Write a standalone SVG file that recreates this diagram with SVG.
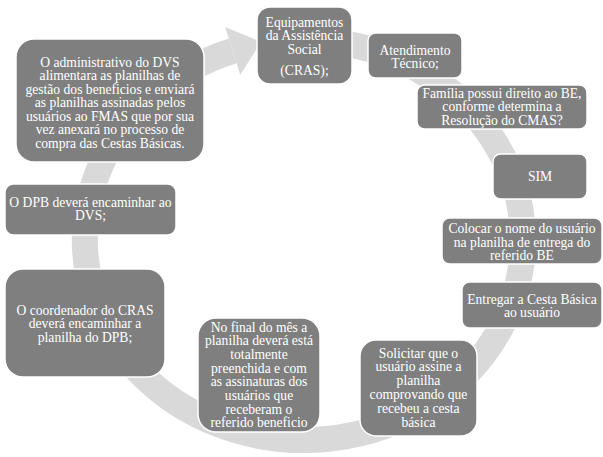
<svg xmlns="http://www.w3.org/2000/svg" width="603" height="457" viewBox="0 0 603 457">
<style>
.box{fill:#7f7f7f;stroke:#ffffff;stroke-width:1.5}
.t{font-family:'Liberation Serif','Times New Roman','DejaVu Serif',serif;font-size:13.6px;fill:#ffffff;text-anchor:middle}
.band{fill:none;stroke:#d9d9d9;stroke-width:26}
.head{fill:#d9d9d9}
</style>
<rect width="603" height="457" fill="#ffffff"/>
<g id="connectors">
<path class="band" d="M323.1,40.8 A219,200 0 1 1 232.7,50.9"/>
<polygon class="head" points="225.2,27 261.3,41.9 240.2,74.8"/>
</g>
<g id="node1">
<rect class="box" x="257" y="7" width="95" height="77" rx="13"/>
<text class="t" font-family="Liberation Serif, serif"><tspan x="304.5" y="26.6">Equipamentos</tspan><tspan x="304.5" y="40.4">da Assistência</tspan><tspan x="304.5" y="54.2">Social</tspan><tspan x="304.5" y="74.5">(CRAS);</tspan></text>
</g>
<g id="node2">
<rect class="box" x="368" y="33" width="94" height="45" rx="7.5"/>
<text class="t" font-family="Liberation Serif, serif"><tspan x="415" y="54.5">Atendimento</tspan><tspan x="415" y="68">Técnico;</tspan></text>
</g>
<g id="node3">
<rect class="box" x="417" y="85" width="170" height="44" rx="7.5"/>
<text class="t" font-family="Liberation Serif, serif"><tspan x="502" y="97.5">Família possui direito ao BE,</tspan><tspan x="502" y="111">conforme determina a</tspan><tspan x="502" y="124.5">Resolução do CMAS?</tspan></text>
</g>
<g id="node4">
<rect class="box" x="493" y="154" width="94" height="45" rx="7.5"/>
<text class="t" font-family="Liberation Serif, serif"><tspan x="540" y="181">SIM</tspan></text>
</g>
<g id="node5">
<rect class="box" x="442" y="218" width="160" height="46" rx="7.5"/>
<text class="t" font-family="Liberation Serif, serif"><tspan x="522" y="233">Colocar o nome do usuário</tspan><tspan x="522" y="246.5">na planilha de entrega do</tspan><tspan x="522" y="260">referido BE</tspan></text>
</g>
<g id="node6">
<rect class="box" x="462" y="282" width="140" height="46" rx="7.5"/>
<text class="t" font-family="Liberation Serif, serif"><tspan x="532" y="303.5">Entregar a Cesta Básica</tspan><tspan x="532" y="317">ao usuário</tspan></text>
</g>
<g id="node7">
<rect class="box" x="360" y="340" width="117" height="96" rx="16"/>
<text class="t" font-family="Liberation Serif, serif"><tspan x="418.5" y="357.5">Solicitar que o</tspan><tspan x="418.5" y="371.3">usuário assine a</tspan><tspan x="418.5" y="385.1">planilha</tspan><tspan x="418.5" y="398.9">comprovando que</tspan><tspan x="418.5" y="412.7">recebeu a cesta</tspan><tspan x="418.5" y="426.5">básica</tspan></text>
</g>
<g id="node8">
<rect class="box" x="198" y="318" width="122" height="114" rx="18"/>
<text class="t" font-family="Liberation Serif, serif"><tspan x="259" y="331.5">No final do mês a</tspan><tspan x="259" y="345.2">planilha deverá está</tspan><tspan x="259" y="358.9">totalmente</tspan><tspan x="259" y="372.6">preenchida e com</tspan><tspan x="259" y="386.3">as assinaturas dos</tspan><tspan x="259" y="400">usuários que</tspan><tspan x="259" y="413.7">receberam o</tspan><tspan x="259" y="427.4">referido beneficio</tspan></text>
</g>
<g id="node9">
<rect class="box" x="5" y="269" width="160" height="108" rx="18"/>
<text class="t" font-family="Liberation Serif, serif"><tspan x="85" y="314.5">O coordenador do CRAS</tspan><tspan x="85" y="328">deverá encaminhar a</tspan><tspan x="85" y="341.5">planilha do DPB;</tspan></text>
</g>
<g id="node10">
<rect class="box" x="5" y="184" width="171" height="51" rx="8.5"/>
<text class="t" font-family="Liberation Serif, serif"><tspan x="90.5" y="206.5">O DPB deverá encaminhar ao</tspan><tspan x="90.5" y="220">DVS;</tspan></text>
</g>
<g id="node11">
<rect class="box" x="16" y="39" width="188" height="123" rx="18"/>
<text class="t" font-family="Liberation Serif, serif"><tspan x="110" y="66.5">O administrativo do DVS</tspan><tspan x="110" y="80">alimentara as planilhas de</tspan><tspan x="110" y="93.5">gestão dos beneficios e enviará</tspan><tspan x="110" y="107">as planilhas assinadas pelos</tspan><tspan x="110" y="120.5">usuários ao FMAS que por sua</tspan><tspan x="110" y="134">vez anexará no processo de</tspan><tspan x="110" y="147.5">compra das Cestas Básicas.</tspan></text>
</g>
</svg>
